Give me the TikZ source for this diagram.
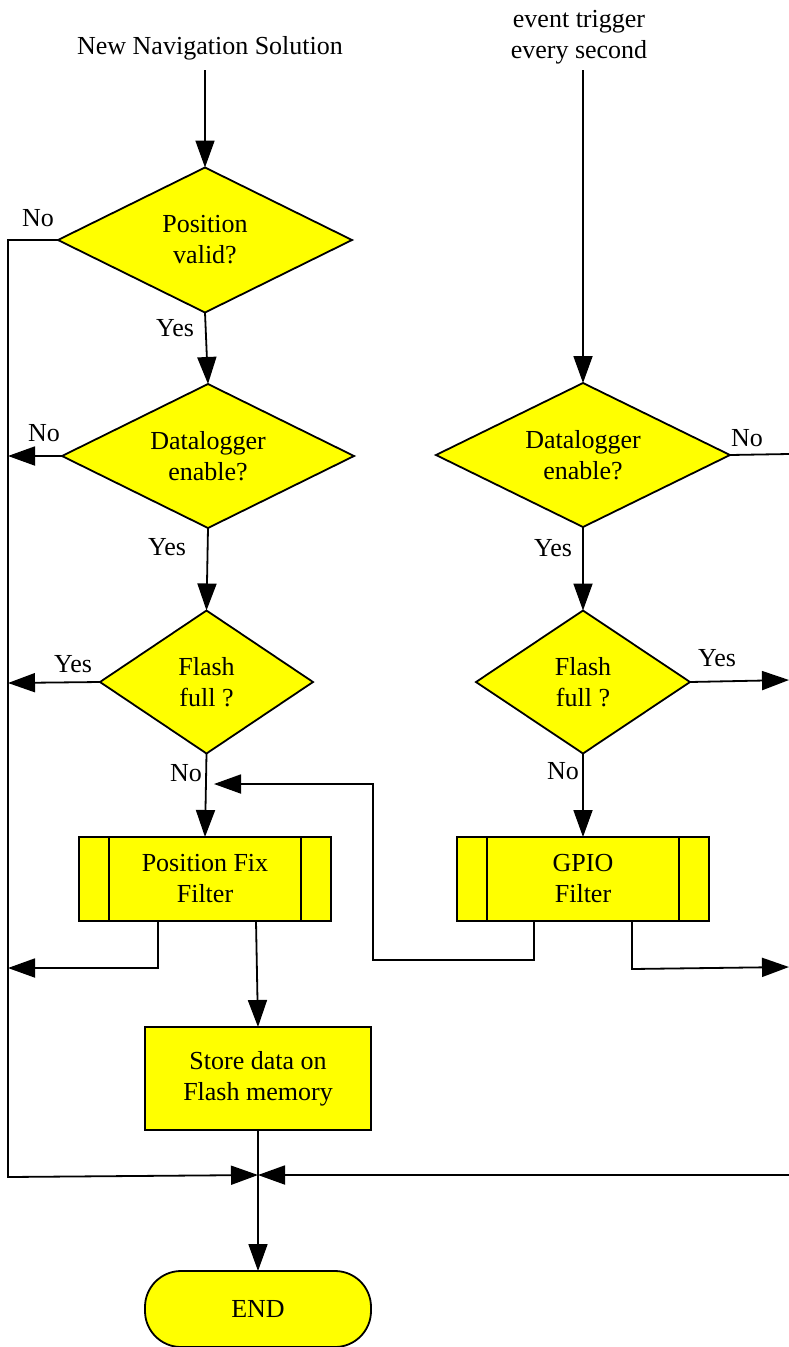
\documentclass[tikz,border=0pt]{standalone}
\usepackage{fontspec}
\setmainfont{Liberation Serif}
\newfontfamily\tnrfont{Liberation Serif}
\usetikzlibrary{shapes.geometric,arrows.meta}
\definecolor{flowyellow}{RGB}{255,255,0}
\begin{document}
\begin{tikzpicture}[x=1pt,y=-1pt,
  font=\tnrfont\fontsize{26}{31}\selectfont,
  every node/.style={inner sep=0pt,outer sep=0pt},
  conn/.style={line width=1.8pt},
  arr/.style={conn,-{Triangle[length=27pt,width=19pt]}},
  dec/.style={diamond,draw,line width=1.8pt,fill=flowyellow,align=center,aspect=2},
  proc/.style={rectangle,draw,line width=1.6pt,fill=flowyellow,align=center,
    minimum width=252pt,minimum height=84pt,
    path picture={
      \draw[line width=2.2pt] ([xshift=30pt]path picture bounding box.north west) -- ([xshift=30pt]path picture bounding box.south west);
      \draw[line width=2.2pt] ([xshift=-30pt]path picture bounding box.north east) -- ([xshift=-30pt]path picture bounding box.south east);
    }},
  box/.style={rectangle,draw,line width=1.8pt,fill=flowyellow,align=center},
  lbl/.style={anchor=center}
]
\useasboundingbox (0,0) rectangle (789,1347);

% texts at top
\node[lbl] (t1) at (210,48) {New Navigation Solution};
\node[lbl,align=center] (t2) at (579,37) {event trigger\\every second};

% decisions
\node[dec,minimum width=294pt,minimum height=145pt] (d1) at (205,240) {Position\\valid?};
\node[dec,minimum width=292pt,minimum height=144pt] (d2) at (208,456) {Datalogger\\enable?};
\node[dec,aspect=1.5,minimum width=213pt,minimum height=143pt] (d3) at (206.5,682) {Flash\\full ?};
\node[dec,minimum width=294pt,minimum height=144pt] (d4) at (583,455) {Datalogger\\enable?};
\node[dec,aspect=1.5,minimum width=214pt,minimum height=143pt] (d5) at (583,682) {Flash\\full ?};

% processes
\node[proc] (pf) at (205,879) {Position Fix\\Filter};
\node[proc] (gp) at (583,879) {GPIO\\Filter};
\node[box,minimum width=226pt,minimum height=103pt] (st) at (258,1078.5) {Store data on\\Flash memory};
\node[box,rounded corners=36pt,minimum width=226pt,minimum height=76pt] (en) at (258,1309) {END};

% coordinates
\coordinate (s1) at (205,70);
\coordinate (s2) at (583,70);
\coordinate (J) at (258,1175);
\coordinate (fb) at (214,784);
\coordinate (rE1) at (789,454);
\coordinate (rE2) at (789,680);
\coordinate (rE3) at (789,967);
\coordinate (rE4) at (789,1175);

% left column
\draw[arr] (s1) -- (d1.north);
\draw[arr] (d1.south) -- (d2.north);
\draw[arr] (d2.south) -- (d3.north);
\draw[arr] (d3.south) -- (pf.north);
\draw[arr] (d1.west) -- (8,240) -- (8,1177) -- (J);
\draw[arr] (d2.west) -- (8,456);
\draw[arr] (d3.west) -- (8,683);
\draw[arr] ([xshift=-47pt]pf.south) -- (158,968) -- (8,968);
\draw[arr] ([xshift=51pt]pf.south) -- (st.north);
\draw[arr] (st.south) -- (en.north);
\draw[arr] (rE4) -- (J);

% right column
\draw[arr] (s2) -- (d4.north);
\draw[arr] (d4.south) -- (d5.north);
\draw[arr] (d5.south) -- (gp.north);
\draw[conn] (d4.east) -- (rE1);
\draw[arr] (d5.east) -- (rE2);
\draw[arr] ([xshift=-49pt]gp.south) -- (534,960) -- (373,960) -- (373,784) -- (fb);
\draw[arr] ([xshift=49pt]gp.south) -- (632,969) -- (rE3);

% labels
\node[lbl] (l1) at (38,218) {No};
\node[lbl] (l2) at (175,328) {Yes};
\node[lbl] (l3) at (44,433) {No};
\node[lbl] (l4) at (167,547) {Yes};
\node[lbl] (l5) at (73,664) {Yes};
\node[lbl] (l6) at (186,773) {No};
\node[lbl] (l7) at (747,438) {No};
\node[lbl] (l8) at (553,548) {Yes};
\node[lbl] (l9) at (717,658) {Yes};
\node[lbl] (l10) at (563,771) {No};
\end{tikzpicture}
\end{document}
